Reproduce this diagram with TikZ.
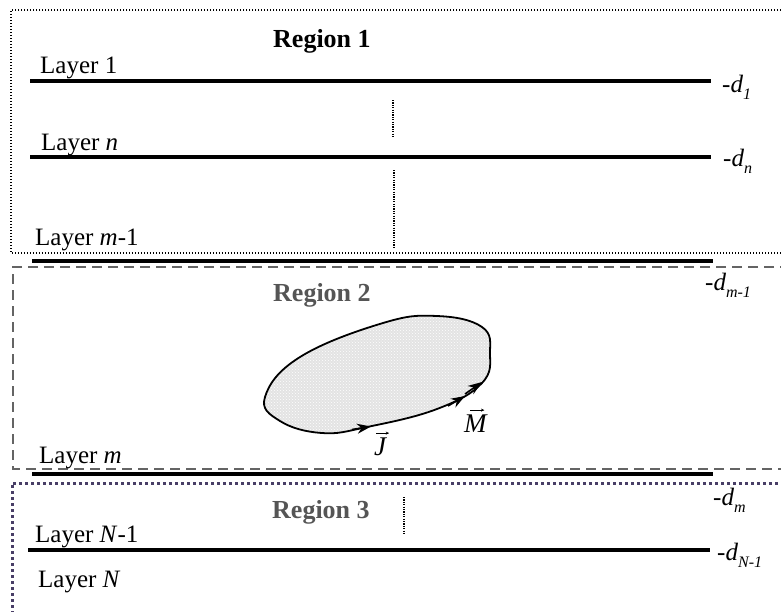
\documentclass[tikz,border=0pt]{standalone}
\usepackage{fontspec}
\setmainfont{Liberation Serif}
\usetikzlibrary{arrows.meta,patterns}
\definecolor{regtwo}{RGB}{100,100,100}
\definecolor{regthree}{RGB}{72,62,102}
\definecolor{regtxt}{RGB}{85,85,85}
\newcommand{\dlab}[1]{-\textit{d}\raisebox{-0.28em}{\fontsize{16}{16}\selectfont\textit{#1}}}
\begin{document}
\begin{tikzpicture}[x=1pt,y=-1pt,
  txt/.style={anchor=base west,inner sep=0pt,font=\fontsize{25}{29}\selectfont},
  regtitle/.style={txt,font=\fontsize{26}{30}\selectfont\bfseries},
  vectxt/.style={txt,font=\fontsize{27}{30}\selectfont\itshape},
  vecarrow/.style={-{Stealth[length=3.5pt,width=3pt]},line width=0.7pt},
  layerline/.style={line width=3.4pt},
  vdots/.style={line width=1.4pt,dash pattern=on 1.2pt off 1.2pt},
  regonebox/.style={line width=1.5pt,dash pattern=on 1.4pt off 1.6pt},
  regtwobox/.style={draw=regtwo,line width=2.2pt,dash pattern=on 10pt off 6pt},
  regthreebox/.style={draw=regthree,line width=3pt,dash pattern=on 3pt off 3pt},
  arrowhd/.style={-{Stealth[length=14pt,width=10pt]},line width=1.6pt}]
\useasboundingbox (0,0) rectangle (781,611);
\clip (0,0) rectangle (781,611);
% regions
\draw[regonebox] (790,10) -- (11,10) -- (11,253) -- (790,253);
\draw[regtwobox] (790,267) -- (13,267) -- (13,469) -- (790,469);
\draw[regthreebox] (790,483) -- (12,483) -- (12,620);
% layer lines
\coordinate (l1a) at (30,81);  \coordinate (l1b) at (711,81);
\coordinate (lna) at (30,157); \coordinate (lnb) at (711,157);
\coordinate (lm1a) at (32,261); \coordinate (lm1b) at (713,261);
\coordinate (lma) at (32,474); \coordinate (lmb) at (713,474);
\coordinate (lNa) at (28,550); \coordinate (lNb) at (710,550);
\draw[layerline] (l1a) -- (l1b);
\draw[layerline] (lna) -- (lnb);
\draw[layerline] (lm1a) -- (lm1b);
\draw[layerline] (lma) -- (lmb);
\draw[layerline] (lNa) -- (lNb);
% vertical dotted
\coordinate (v1a) at (393,100); \coordinate (v1b) at (393,138);
\coordinate (v2a) at (394,170); \coordinate (v2b) at (394,247);
\coordinate (v3a) at (404,497); \coordinate (v3b) at (404,534);
\draw[vdots] (v1a) -- (v1b);
\draw[vdots] (v2a) -- (v2b);
\draw[vdots] (v3a) -- (v3b);
% texts
\node[regtitle] (r1) at (273,47) {Region 1};
\node[regtitle,text=regtxt] (r2) at (273,301) {Region 2};
\node[regtitle,text=regtxt] (r3) at (272,518) {Region 3};
\node[txt] (t1) at (40,73) {Layer 1};
\node[txt] (tn) at (41,150) {Layer \textit{n}};
\node[txt] (tm1) at (35,245) {Layer \textit{m}-1};
\node[txt] (tm) at (39,463) {Layer \textit{m}};
\node[txt] (tN1) at (35,542) {Layer \textit{N}-1};
\node[txt] (tN) at (38,587) {Layer \textit{N}};
\node[txt] (d1) at (722,92) {\dlab{1}};
\node[txt] (dn) at (723,166) {\dlab{n}};
\node[txt] (dm1) at (705,290) {\dlab{m-1}};
\node[txt] (dm) at (713,505) {\dlab{m}};
\node[txt] (dN1) at (717,560) {\dlab{N-1}};
% blob
\def\blob{plot[smooth cycle,tension=0.7] coordinates {(265,397) (300,357) (383,323) (437,316) (482,327) (490,353) (482,383) (437,409) (367,427) (322,433) (280,421)}}
\fill[gray!22] \blob;
\fill[pattern=crosshatch dots,pattern color=white] \blob;
\draw[line width=1.8pt] \blob;
\coordinate (a1s) at (352,429.5); \coordinate (a1e) at (371,426.5);
\coordinate (a2s) at (448,406); \coordinate (a2e) at (465,396);
\coordinate (a3s) at (465,394); \coordinate (a3e) at (482,382);
\draw[arrowhd] (a1s) -- (a1e);
\draw[arrowhd] (a2s) -- (a2e);
\draw[arrowhd] (a3s) -- (a3e);
\node[vectxt] (M) at (464,432) {M};
\node[vectxt] (J) at (374,455) {J};
\draw[vecarrow] ([xshift=-5pt,yshift=4pt]M.north) -- ([xshift=9pt,yshift=4pt]M.north);
\draw[vecarrow] ([xshift=-4pt,yshift=4pt]J.north) -- ([xshift=9pt,yshift=4pt]J.north);
\end{tikzpicture}
\end{document}
